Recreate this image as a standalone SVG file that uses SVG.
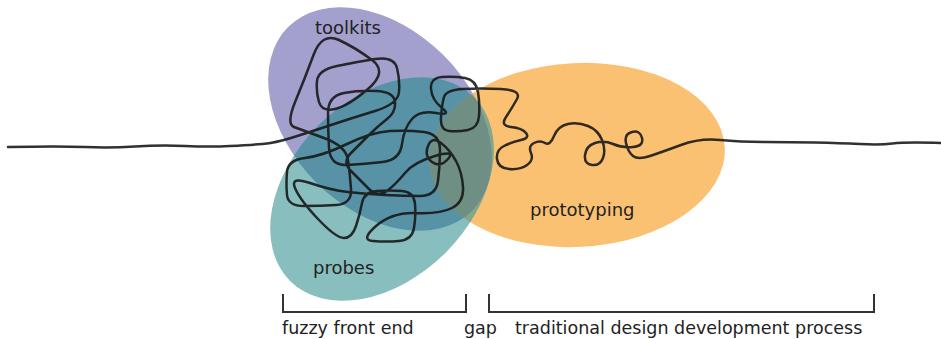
<svg xmlns="http://www.w3.org/2000/svg" width="941" height="339" viewBox="0 0 941 339">
<style>
.lbl{font-family:"DejaVu Sans","Liberation Sans",sans-serif;fill:#222;}
.big{font-size:18px;}
.small{font-size:17.5px;}
.br{fill:none;stroke:#333;stroke-width:2;}
.scr{fill:none;stroke:#141414;stroke-width:2.5;stroke-linecap:round;stroke-linejoin:round;stroke-opacity:0.88;}
</style>
<defs>
<ellipse id="eP" cx="380" cy="119" rx="130" ry="90" transform="rotate(45 380 119)"/>
<ellipse id="eT" cx="382" cy="189" rx="130" ry="90" transform="rotate(-45 382 189)"/>
<ellipse id="eO" cx="577" cy="155" rx="148" ry="92" transform="rotate(-3 577 155)"/>
<clipPath id="cpP"><use href="#eP"/></clipPath>
<clipPath id="cpT"><use href="#eT"/></clipPath>
<clipPath id="cpO"><use href="#eO"/></clipPath>
</defs>
<g id="toolkits">
<use href="#eP" fill="#A3A0CE"/>
</g>
<g id="prototyping">
<use href="#eO" fill="#FAC172"/>
<use href="#eO" fill="#C09D9C" clip-path="url(#cpP)"/>
</g>
<g id="probes">
<use href="#eT" fill="#88BEBE"/>
<use href="#eT" fill="#5892A6" clip-path="url(#cpP)"/>
<use href="#eT" fill="#84A68A" clip-path="url(#cpO)"/>
<g clip-path="url(#cpP)"><use href="#eT" fill="#6F8E84" clip-path="url(#cpO)"/></g>
</g>
<g id="connectors">
<path class="scr" d="M8 147 Q60 146 85 147 Q110 148 135 146.5 Q160 145 185 146 Q210 147 230 146 Q250 145 262.5 144 Q275 143 292.5 137.5 Q310 132 331 125 Q352 118 375 111 Q398 104 399 92 Q400 80 397 68 Q394 56 375 59 Q356 62 337 66 Q318 70 317 81 Q316 92 319 102 Q322 112 335 109 Q348 106 368 89 Q388 72 372 60 Q356 48 339 40 Q322 32 313.5 55 Q305 78 295.5 101 Q286 124 294 127 Q302 130 324 138 Q346 146 348 160 Q350 174 351 189 Q352 204 336 205 Q320 206 304 206 Q288 206 287 195 Q286 184 287 172 Q288 160 305 158 Q322 156 347 144 Q372 132 390 131 Q408 130 424 132 Q440 134 440 150 Q440 166 438 181 Q436 196 420 196 Q404 196 385 195 Q366 194 348 192 Q330 190 310 183 Q290 176 295 188 Q300 200 318 219 Q336 238 344 238 Q352 238 356 226 Q360 214 362 203 Q364 192 377 191 Q390 190 402 191 Q414 192 415 204 Q416 216 414 228 Q412 240 399 241 Q386 242 373 241 Q360 240 376 226 Q392 212 416 213 Q440 214 452 208 Q464 202 463 187 Q462 172 456 161 Q450 150 441 143 Q432 136 428 146 Q424 156 432 162 Q440 168 448 159 Q456 150 435 156 Q414 162 405 173 Q396 184 387 191 Q378 198 369 189 Q360 180 351 171 Q342 162 351 153 Q360 144 369 135 Q378 126 387 119 Q396 112 395 102 Q394 92 377 91 Q360 90 344 93 Q328 96 328 113 Q328 130 329 148 Q330 166 347.5 165 Q365 164 382.5 162 Q400 160 402 144 Q404 128 412 119 Q420 110 436 113 Q452 116 442 108 Q432 100 431 89 Q430 78 442 77 Q454 76 465 78 Q476 80 478 92 Q480 104 479 116 Q478 128 468 130 Q458 132 449 131 Q440 130 441 117 Q442 104 444 97 Q446 90 463 89 Q480 88 501 89 Q522 90 517 99 Q512 108 506 117 Q500 126 511 127 Q522 128 526 133 Q530 138 521 140 Q512 142 504 146 Q496 150 497 159 Q498 168 509 169 Q520 170 527 165 Q534 160 531 153 Q528 146 534 143 Q540 140 545 143 Q550 146 554 136 Q558 126 568 124 Q578 122 588 126 Q598 130 602 140 Q606 150 603 158 Q600 166 592 165 Q584 164 585 155 Q586 146 595 143 Q604 140 613 144 Q622 148 633 147 Q644 146 642 138 Q640 130 632 132 Q624 134 626 143 Q628 152 633 156 Q638 160 650 156 Q662 152 681 145 Q700 138 720 140 Q740 142 765 142 Q790 142 815 142.5 Q840 143 860 144 Q880 145 892.5 143.5 Q905 142 941 143"/>
</g>
<g id="brackets">
<path class="br" d="M283 294 V312 H466 V294"/>
<path class="br" d="M489 294 V312 H874 V294"/>
</g>
<g id="labels">
<text class="lbl big" x="315" y="34">toolkits</text>
<text class="lbl big" x="313" y="274">probes</text>
<text class="lbl big" x="530" y="216">prototyping</text>
<text class="lbl small" x="282" y="334">fuzzy front end</text>
<text class="lbl small" x="464" y="334">gap</text>
<text class="lbl small" x="515" y="334">traditional design development process</text>
</g>
</svg>
